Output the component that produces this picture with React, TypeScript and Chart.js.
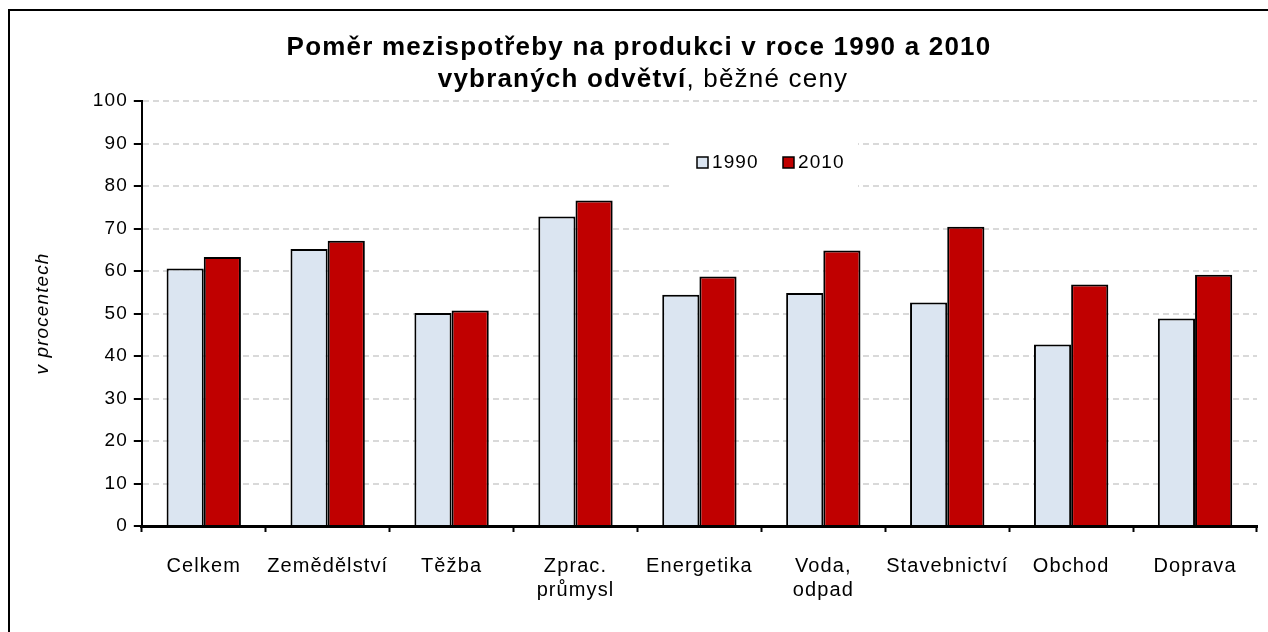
import React, { useEffect, useRef } from "react";
import { Chart, registerables } from "chart.js";

Chart.register(...registerables);

const categories: string[][] = [
  ["Celkem"],
  ["Zemědělství"],
  ["Těžba"],
  ["Zprac.", "průmysl"],
  ["Energetika"],
  ["Voda,", "odpad"],
  ["Stavebnictví"],
  ["Obchod"],
  ["Doprava"],
];
const values1990 = [60.6, 65.2, 50.1, 72.8, 54.4, 54.8, 52.6, 42.7, 48.8];
const values2010 = [63.3, 67.1, 50.7, 76.6, 58.7, 64.8, 70.4, 56.8, 59.1];
const seriesLabels = ["1990", "2010"];
const seriesColors = ["#dbe5f1", "#c00000"];
const titleLine1 = "Poměr mezispotřeby na produkci v roce 1990 a 2010";
const titleLine2Bold = "vybraných odvětví";
const titleLine2Normal = ", běžné ceny";
const yAxisTitle = "v procentech";
const yMin = 0;
const yMax = 100;
const yStep = 10;

const FONT = "Arial, 'Liberation Sans', sans-serif";
const SPACING = "1.1px";

const spacingPlugin = {
  id: "letterSpacing",
  beforeUpdate(chart: any) {
    chart.ctx.letterSpacing = SPACING;
  },
  beforeLayout(chart: any) {
    chart.ctx.letterSpacing = SPACING;
  },
  beforeDraw(chart: any) {
    chart.ctx.letterSpacing = SPACING;
  },
};

const titlePlugin = {
  id: "customTitle",
  afterDraw(chart: any) {
    const ctx = chart.ctx;
    const cx = chart.width / 2;
    ctx.save();
    ctx.letterSpacing = "1.2px";
    ctx.fillStyle = "#000";
    ctx.textBaseline = "middle";
    ctx.textAlign = "center";
    const boldFont = `bold 26px ${FONT}`;
    const normFont = `26px ${FONT}`;
    ctx.font = boldFont;
    ctx.fillText(titleLine1, cx, 37);
    const w1 = ctx.measureText(titleLine2Bold).width;
    ctx.font = normFont;
    const w2 = ctx.measureText(titleLine2Normal).width;
    const x = cx - (w1 + w2) / 2 + 4;
    ctx.textAlign = "left";
    ctx.font = boldFont;
    ctx.fillText(titleLine2Bold, x, 69);
    ctx.font = normFont;
    ctx.fillText(titleLine2Normal, x + w1, 69);
    ctx.restore();
  },
};

const legendPlugin = {
  id: "customLegend",
  beforeDatasetsDraw(chart: any) {
    const ctx = chart.ctx;
    ctx.save();
    ctx.fillStyle = "#fff";
    ctx.fillRect(662, 130, 186, 48);
    const items = [
      { x: 687, label: seriesLabels[0], color: seriesColors[0] },
      { x: 773, label: seriesLabels[1], color: seriesColors[1] },
    ];
    ctx.font = `19px ${FONT}`;
    ctx.letterSpacing = SPACING;
    ctx.textBaseline = "middle";
    ctx.textAlign = "left";
    for (const it of items) {
      ctx.fillStyle = it.color;
      ctx.fillRect(it.x, 146, 11, 11);
      ctx.strokeStyle = "#000";
      ctx.lineWidth = 1.5;
      ctx.strokeRect(it.x, 146, 11, 11);
      ctx.fillStyle = "#000";
      ctx.fillText(it.label, it.x + 15, 152);
    }
    ctx.restore();
  },
};

export default function App() {
  const ref = useRef<HTMLCanvasElement | null>(null);
  useEffect(() => {
    if (!ref.current) return;
    const chart = new Chart(ref.current, {
      type: "bar",
      data: {
        labels: categories,
        datasets: [
          {
            label: seriesLabels[0],
            data: values1990,
            backgroundColor: seriesColors[0],
            borderColor: "#000",
            borderWidth: 2,
          },
          {
            label: seriesLabels[1],
            data: values2010,
            backgroundColor: seriesColors[1],
            borderColor: "#000",
            borderWidth: 2,
          },
        ],
      },
      options: {
        animation: false,
        responsive: false,
        maintainAspectRatio: false,
        layout: { padding: { top: 90, left: 21, right: 11, bottom: 8 } },
        datasets: { bar: { barPercentage: 1, categoryPercentage: 0.6 } },
        plugins: {
          legend: { display: false },
          tooltip: { enabled: false },
          title: { display: false },
        },
        scales: {
          x: {
            offset: true,
            grid: {
              offset: true,
              drawOnChartArea: false,
              drawTicks: true,
              tickLength: 6,
              tickColor: "#000",
              tickWidth: 2,
            },
            border: { display: true, color: "#000", width: 3 },
            ticks: {
              color: "#000",
              font: { family: FONT, size: 20, lineHeight: 1.2 },
              padding: 22,
              maxRotation: 0,
              autoSkip: false,
            },
          },
          y: {
            min: yMin,
            max: yMax,
            ticks: {
              stepSize: yStep,
              color: "#000",
              font: { family: FONT, size: 19 },
              padding: 6,
            },
            grid: {
              color: "#d9d9d9",
              lineWidth: 2,
              drawTicks: true,
              tickLength: 8,
              tickColor: "#000",
              tickWidth: 2,
              tickBorderDash: [],
            },
            border: { display: true, color: "#000", width: 2, dash: [6, 4] },
            title: {
              display: true,
              text: yAxisTitle,
              color: "#000",
              font: { family: FONT, size: 19, style: "italic" },
              padding: { top: 0, bottom: 33 },
            },
          },
        },
      },
      plugins: [spacingPlugin, titlePlugin, legendPlugin],
    } as any);
    return () => chart.destroy();
  }, []);
  return (
    <div
      style={{
        position: "fixed",
        left: 8,
        top: 9,
        width: 1260,
        height: 623,
        borderLeft: "2px solid #000",
        borderTop: "2px solid #000",
        boxSizing: "border-box",
        background: "#fff",
      }}
    >
      <canvas ref={ref} width={1258} height={621} style={{ display: "block" }} />
    </div>
  );
}
